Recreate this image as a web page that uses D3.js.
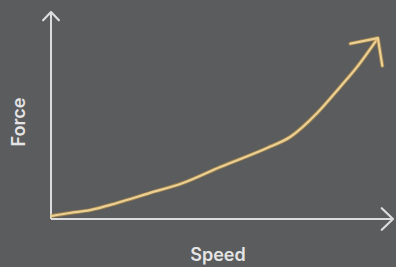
<!DOCTYPE html>
<html>
<head>
<meta charset="utf-8">
<script src="https://cdn.jsdelivr.net/npm/d3@7"></script>
<style>
  html, body { margin: 0; padding: 0; background: #5a5c5e; }
  svg { display: block; }
</style>
</head>
<body>
<div id="container"></div>
<script>
// Curve (arbitrary units, 0-100 on both axes)
const speed = [0, 5.5, 11.4, 19.2, 28.9, 38.5, 49.3, 63, 69.7, 77.6, 84.3, 89.2, 95.3];
const force = [1.4, 2.9, 4.3, 7.7, 12.6, 17.4, 25.1, 34.3, 39.6, 51.2, 63.8, 73.4, 87.4];
const xLabel = "Speed";
const yLabel = "Force";

const width = 396;
const height = 267;
const marginTop = 12;
const marginRight = 2;
const marginBottom = 48;
const marginLeft = 51;

const axisColor = "#dcdcdc";
const curveColor = "#ebd096";

const data = speed.map((s, i) => ({ speed: s, force: force[i] }));

const x = d3.scaleLinear()
  .domain([0, 100])
  .range([marginLeft, width - marginRight]);

const y = d3.scaleLinear()
  .domain([0, 100])
  .range([height - marginBottom, marginTop]);

const svg = d3.create("svg")
  .attr("width", width)
  .attr("height", height)
  .attr("viewBox", [0, 0, width, height]);

svg.append("rect")
  .attr("width", width)
  .attr("height", height)
  .attr("fill", "#5a5c5e");

// open chevron arrowheads
const defs = svg.append("defs");
function chevron(id, color, size, edge) {
  const m = defs.append("marker")
    .attr("id", id)
    .attr("markerUnits", "userSpaceOnUse")
    .attr("viewBox", [-size, -size, size * 2, size * 2])
    .attr("refX", 0)
    .attr("refY", 0)
    .attr("markerWidth", size * 2)
    .attr("markerHeight", size * 2)
    .attr("orient", "auto");
  const d = `M${-size * 0.75},${-size * 0.72}L0,0L${-size * 0.75},${size * 0.72}`;
  if (edge) {
    m.append("path")
      .attr("d", d)
      .attr("fill", "none")
      .attr("stroke", edge)
      .attr("stroke-opacity", 0.6)
      .attr("stroke-width", 4)
      .attr("stroke-linecap", "round")
      .attr("stroke-linejoin", "round");
  }
  m.append("path")
    .attr("d", d)
    .attr("fill", "none")
    .attr("stroke", color)
    .attr("stroke-width", 2.2)
    .attr("stroke-linecap", "round")
    .attr("stroke-linejoin", "round");
}
chevron("axisArrowY", axisColor, 11);
chevron("axisArrowX", axisColor, 15);
chevron("curveArrow", curveColor, 27, "#c9973f");

// Axes (no ticks)
svg.append("line")
  .attr("x1", x(0)).attr("y1", y(0))
  .attr("x2", x(0)).attr("y2", y(100))
  .attr("stroke", axisColor)
  .attr("stroke-width", 2)
  .attr("marker-end", "url(#axisArrowY)");

svg.append("line")
  .attr("x1", x(0)).attr("y1", y(0))
  .attr("x2", x(100) - 1).attr("y2", y(0))
  .attr("stroke", axisColor)
  .attr("stroke-width", 2)
  .attr("marker-end", "url(#axisArrowX)");

// Curve
const line = d3.line()
  .x(d => x(d.speed))
  .y(d => y(d.force))
  .curve(d3.curveMonotoneX);

svg.append("path")
  .datum(data)
  .attr("fill", "none")
  .attr("stroke", "#c9973f")
  .attr("stroke-opacity", 0.6)
  .attr("stroke-width", 4)
  .attr("d", line);

svg.append("path")
  .datum(data)
  .attr("fill", "none")
  .attr("stroke", curveColor)
  .attr("stroke-width", 2.2)
  .attr("stroke-linecap", "round")
  .attr("marker-end", "url(#curveArrow)")
  .attr("d", line);

// Labels
svg.append("text")
  .attr("x", 218)
  .attr("y", 261)
  .attr("text-anchor", "middle")
  .attr("font-family", "Inter, sans-serif")
  .attr("font-weight", 600)
  .attr("font-size", "18px")
  .attr("fill", "#e4e4e4")
  .text(xLabel);

svg.append("text")
  .attr("transform", "translate(25,122) rotate(-90)")
  .attr("text-anchor", "middle")
  .attr("font-family", "Inter, sans-serif")
  .attr("font-weight", 600)
  .attr("font-size", "18px")
  .attr("fill", "#e4e4e4")
  .text(yLabel);

document.getElementById("container").append(svg.node());
</script>
</body>
</html>
